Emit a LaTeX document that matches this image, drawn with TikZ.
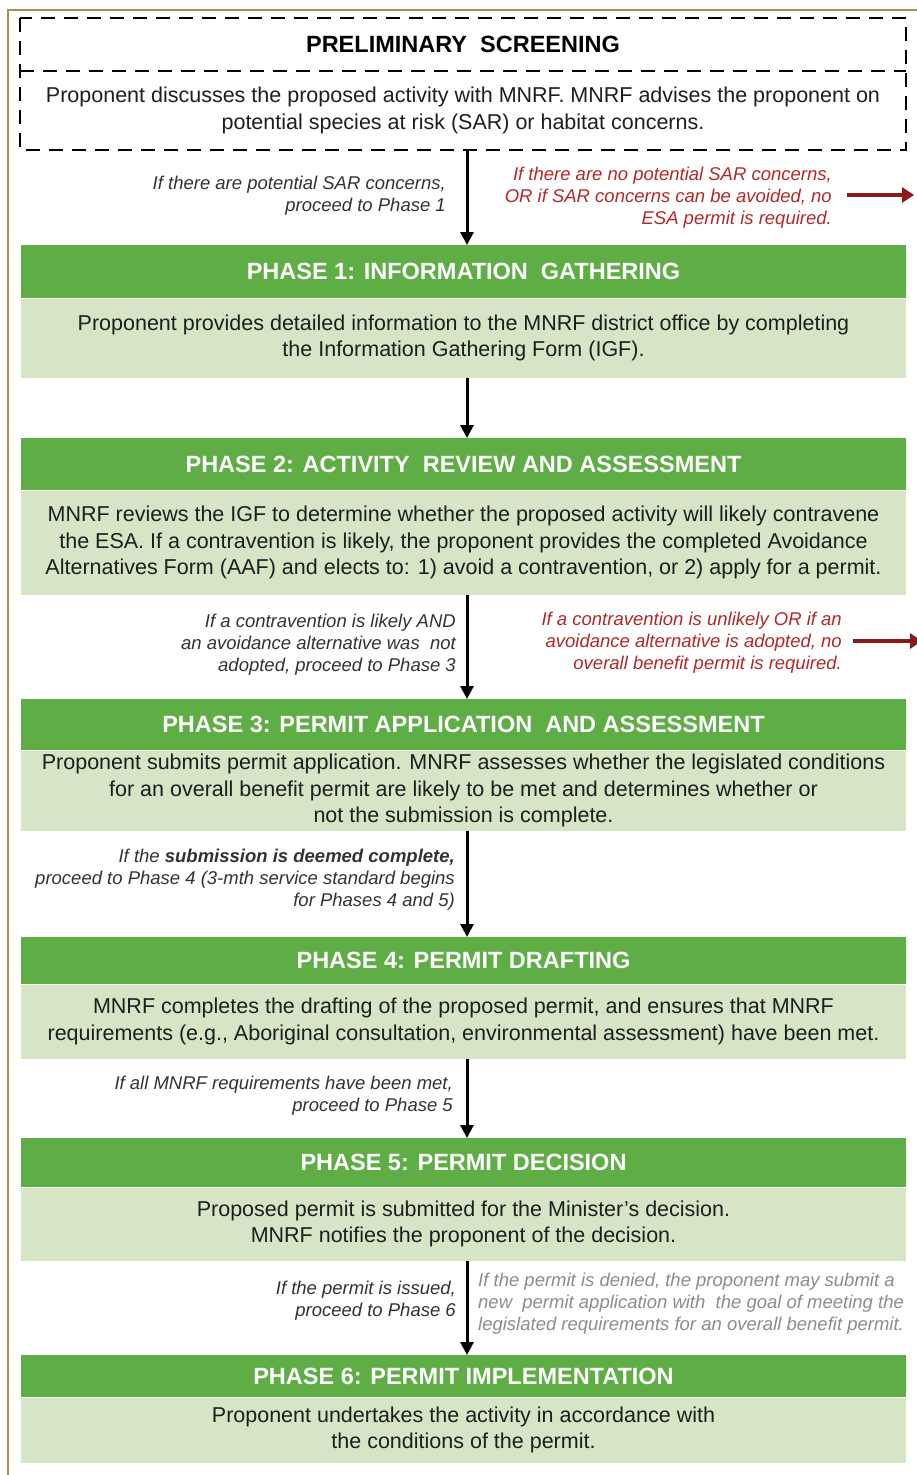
\documentclass[tikz,border=0pt]{standalone}
\usepackage{fontspec}
\setmainfont{Liberation Sans}
\usetikzlibrary{arrows.meta}

\definecolor{hdrgreen}{RGB}{94,173,69}
\definecolor{bodygreen}{RGB}{213,229,197}
\definecolor{warnred}{RGB}{178,40,40}
\definecolor{arrowred}{RGB}{140,26,26}
\definecolor{framegold}{RGB}{168,144,82}
\definecolor{bodytext}{RGB}{30,30,30}
\definecolor{notetext}{RGB}{50,50,50}
\definecolor{softtext}{RGB}{140,140,140}

\tikzset{
  hdr/.style={fill=hdrgreen, text=white, anchor=north, inner sep=0pt,
    minimum width=885pt, font=\bfseries\fontsize{23.5}{26}\selectfont},
  bodybox/.style={fill=bodygreen, text=bodytext, anchor=north, inner sep=0pt,
    minimum width=885pt, align=center, font=\fontsize{21.5}{26.5}\selectfont},
  note/.style={inner sep=0pt, align=right, anchor=east, text=notetext,
    font=\itshape\fontsize{18.5}{22}\selectfont},
  rednote/.style={note, text=warnred},
  flow/.style={line width=3pt, -{Triangle[length=13pt,width=13pt]}},
  exitflow/.style={line width=4pt, arrowred, -{Triangle[length=12pt,width=15pt]}},
}

\begin{document}
\begin{tikzpicture}[x=1pt,y=-1pt]
\useasboundingbox (0,0) rectangle (917,1475);

% outer frame (left and top edges)
\draw[framegold, line width=2.5pt] (8,1476) -- (8,10) -- (918,10);

% preliminary screening
\node[anchor=north, inner sep=0pt, minimum width=886pt, minimum height=53pt,
      font=\bfseries\fontsize{23.5}{26}\selectfont] (p0t) at (463,18)
      {PRELIMINARY\ \ SCREENING};
\node[anchor=north, inner sep=0pt, minimum width=886pt, minimum height=78pt,
      align=center, text=bodytext, font=\fontsize{21.5}{26.5}\selectfont] (p0b) at (p0t.south)
      {Proponent discusses the proposed activity with MNRF. MNRF advises the proponent on\\
       potential species at risk (SAR) or habitat concerns.};
\draw[line width=2pt, dash pattern=on 14pt off 9pt] (p0t.north west) rectangle (p0b.south east);
\draw[line width=2pt, dash pattern=on 14pt off 9pt] (p0t.south west) -- (p0t.south east);

\node[note] (n1) at (446,196) {If there are potential SAR concerns,\\ proceed to Phase 1};
\node[rednote] (r1) at (832,197.5) {If there are no potential SAR concerns,\\
  OR if SAR concerns can be avoided, no\\ ESA permit is required.};
\coordinate (r1end) at (914,195);
\draw[exitflow] ([xshift=15pt,yshift=2.5pt]r1.east) -- (r1end);

% phase 1
\node[hdr, minimum height=53pt] (p1h) at (463.5,245) {PHASE 1: INFORMATION\ \ GATHERING};
\node[bodybox, minimum height=79pt] (p1b) at (p1h.south)
  {Proponent provides detailed information to the MNRF district office by completing\\
   the Information Gathering Form (IGF).};

% phase 2
\node[hdr, minimum height=52pt] (p2h) at (463.5,438) {PHASE 2: ACTIVITY\ \ REVIEW AND ASSESSMENT};
\node[bodybox, minimum height=104pt] (p2b) at (p2h.south)
  {MNRF reviews the IGF to determine whether the proposed activity will likely contravene\\
   the ESA. If a contravention is likely, the proponent provides the completed Avoidance\\
   Alternatives Form (AAF) and elects to: 1) avoid a contravention, or 2) apply for a permit.};

\node[note] (n2) at (456,645) {If a contravention is likely AND\\
  an avoidance alternative was\ \ not\\ adopted, proceed to Phase 3};
\node[rednote] (r2) at (842,643) {If a contravention is unlikely OR if an\\
  avoidance alternative is adopted, no\\ overall benefit permit is required.};
\coordinate (r2end) at (922,641);
\draw[exitflow] ([xshift=11pt,yshift=2pt]r2.east) -- (r2end);

% phase 3
\node[hdr, minimum height=51pt] (p3h) at (463.5,699) {PHASE 3: PERMIT APPLICATION\ \ AND ASSESSMENT};
\node[bodybox, minimum height=80pt] (p3b) at (p3h.south)
  {Proponent submits permit application. MNRF assesses whether the legislated conditions\\
   for an overall benefit permit are likely to be met and determines whether or\\
   not the submission is complete.};

\node[note] (n3) at (455,880) {If the \textbf{submission is deemed complete,}\\
  proceed to Phase 4 (3-mth service standard begins\\ for Phases 4 and 5)};

% phase 4
\node[hdr, minimum height=47pt] (p4h) at (463.5,937) {PHASE 4: PERMIT DRAFTING};
\node[bodybox, minimum height=74pt] (p4b) at (p4h.south)
  {MNRF completes the drafting of the proposed permit, and ensures that MNRF\\
   requirements (e.g., Aboriginal consultation, environmental assessment) have been met.};

\node[note] (n4) at (453,1096) {If all MNRF requirements have been met,\\ proceed to Phase 5};

% phase 5
\node[hdr, minimum height=49pt] (p5h) at (463.5,1138) {PHASE 5: PERMIT DECISION};
\node[bodybox, minimum height=73pt] (p5b) at (p5h.south)
  {Proposed permit is submitted for the Minister's decision.\\
   MNRF notifies the proponent of the decision.};

\node[note] (n5) at (456,1301) {If the permit is issued,\\ proceed to Phase 6};
\node[note, anchor=west, align=left, text=softtext] (d5) at (478,1303.5)
  {If the permit is denied, the proponent may submit a\\
   new\ \ permit application with\ \ the goal of meeting the\\
   legislated requirements for an overall benefit permit.};

% phase 6
\node[hdr, minimum height=42pt] (p6h) at (463.5,1355) {PHASE 6: PERMIT IMPLEMENTATION};
\node[bodybox, minimum height=65pt] (p6b) at (p6h.south)
  {Proponent undertakes the activity in accordance with\\
   the conditions of the permit.};

% main flow
\draw[flow] ([xshift=4pt]p0b.south) -- ([xshift=3.5pt]p1h.north);
\draw[flow] ([xshift=3.5pt]p1b.south) -- ([xshift=3.5pt]p2h.north);
\draw[flow] ([xshift=3.5pt]p2b.south) -- ([xshift=3.5pt]p3h.north);
\draw[flow] ([xshift=3.5pt]p3b.south) -- ([xshift=3.5pt]p4h.north);
\draw[flow] ([xshift=3.5pt]p4b.south) -- ([xshift=3.5pt]p5h.north);
\draw[flow] ([xshift=3.5pt]p5b.south) -- ([xshift=3.5pt]p6h.north);
\end{tikzpicture}
\end{document}
